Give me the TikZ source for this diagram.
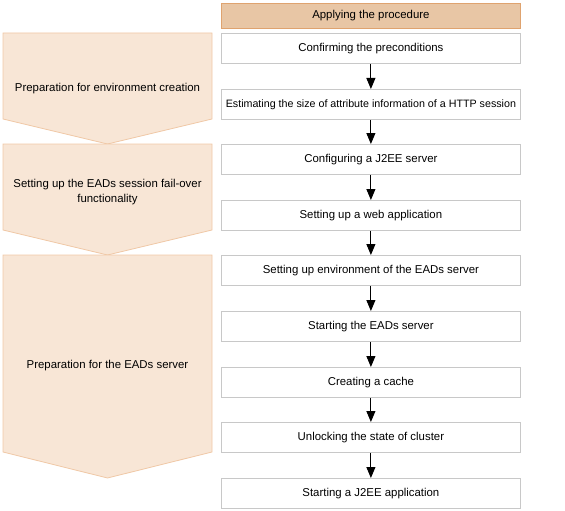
\documentclass[tikz,border=0pt]{standalone}
\usepackage{fontspec}
\setmainfont{Liberation Sans}
\usetikzlibrary{arrows.meta}
\definecolor{hdrfill}{HTML}{E8C6A5}
\definecolor{hdrline}{HTML}{DFA36F}
\definecolor{chevfill}{HTML}{F8E6D6}
\definecolor{chevline}{HTML}{F0C8A6}
\definecolor{boxline}{HTML}{C8C8C8}
\begin{document}
\begin{tikzpicture}[x=1pt,y=-1pt,
  stepbox/.style={draw=boxline,line width=0.8pt,fill=white,minimum width=299pt,minimum height=30pt,inner sep=0pt,font=\fontsize{11.4}{13}\selectfont,anchor=north west},
  hdrbox/.style={stepbox,draw=hdrline,fill=hdrfill,minimum height=25pt},
  chev/.style={draw=chevline,fill=chevfill,line width=0.8pt,line join=miter},
  chevtext/.style={font=\fontsize{11.4}{15}\selectfont,align=center},
  flow/.style={-{Triangle[length=11pt,width=9pt]},line width=0.9pt,black}]
\useasboundingbox (0,0) rectangle (565,511);
% left chevrons
\draw[chev] (3,33) -- (212,33) -- (212,119) -- (107.5,144) -- (3,119) -- cycle;
\draw[chev] (3,144) -- (212,144) -- (212,230) -- (107.5,255) -- (3,230) -- cycle;
\draw[chev] (3,255) -- (212,255) -- (212,452) -- (107.5,478) -- (3,452) -- cycle;
\node[chevtext] (c1) at (107.5,88.5) {Preparation for environment creation};
\node[chevtext] (c2) at (107.5,192) {Setting up the EADs session fail-over\\functionality};
\node[chevtext] (c3) at (107.5,366) {Preparation for the EADs server};
% right column
\node[hdrbox] (h) at (221,3) {Applying the procedure};
\node[stepbox] (s1) at (221,33) {Confirming the preconditions};
\node[stepbox,font=\fontsize{10.7}{13}\selectfont] (s2) at (221,89) {Estimating the size of attribute information of a HTTP session};
\node[stepbox] (s3) at (221,144) {Configuring a J2EE server};
\node[stepbox] (s4) at (221,200) {Setting up a web application};
\node[stepbox] (s5) at (221,255) {Setting up environment of the EADs server};
\node[stepbox] (s6) at (221,311) {Starting the EADs server};
\node[stepbox] (s7) at (221,367) {Creating a cache};
\node[stepbox] (s8) at (221,422) {Unlocking the state of cluster};
\node[stepbox] (s9) at (221,478) {Starting a J2EE application};
\foreach \a/\b in {s1/s2,s2/s3,s3/s4,s4/s5,s5/s6,s6/s7,s7/s8,s8/s9}
  \draw[flow] (\a.south) -- (\b.north);
\end{tikzpicture}
\end{document}
